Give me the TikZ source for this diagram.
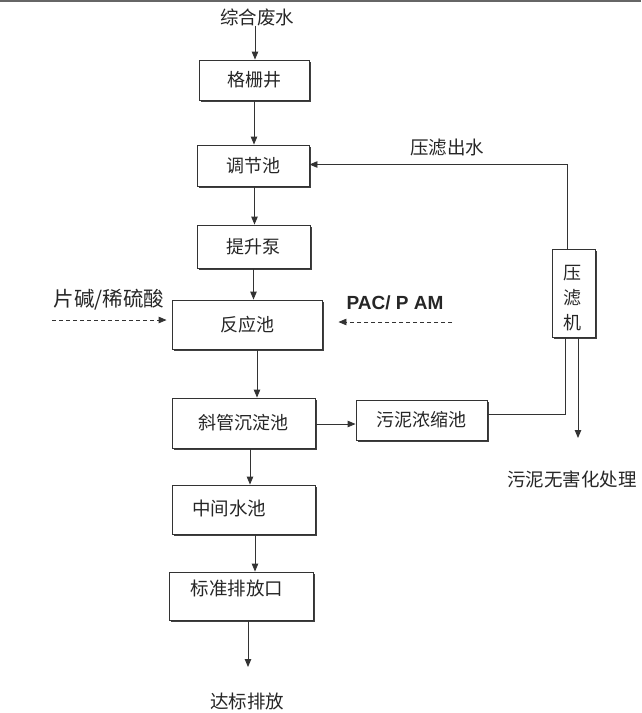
\documentclass[tikz,border=0pt]{standalone}
\usepackage{fontspec}
\newfontfamily\cjk{Noto Sans CJK SC}
\newfontfamily\lsans{Liberation Sans}
\usetikzlibrary{arrows.meta,shadows,calc}
\begin{document}
\begin{tikzpicture}[x=1pt,y=-1pt,
  line/.style={draw=black!80,line width=0.9pt},
  arr/.style={line,-{Triangle[length=8pt,width=6.5pt]}},
  darr/.style={arr,dashed,dash pattern=on 4pt off 3pt},
  box/.style={line,fill=white,font=\cjk\fontsize{18}{20}\selectfont,text=black!85,inner sep=0pt,
    general shadow={fill=black!75,shadow xshift=2pt,shadow yshift=-2pt}},
  lbl/.style={font=\cjk\fontsize{18.5}{20}\selectfont,text=black!85,inner sep=0pt}]
\useasboundingbox (0,0) rectangle (641,713);
\fill[white] (0,0) rectangle (641,713);
\fill[black!60] (0,0) rectangle (641,1.5);
% boxes
\node[box,minimum width=110,minimum height=40] (g1) at (254,80) {格栅井};
\node[box,minimum width=112,minimum height=41] (g2) at (253,165.5) {调节池};
\node[box,minimum width=113,minimum height=43] (g3) at (253.5,246.5) {提升泵};
\node[box,minimum width=150,minimum height=49] (g4) at (247,324.5) {反应池};
\node[box,minimum width=143,minimum height=50] (g5) at (243.5,423) {斜管沉淀池};
\node[box,minimum width=143,minimum height=49] (g6) at (243.5,509.5) {};
\node[lbl] (g6t) at (229,508) {中间水池};
\node[box,minimum width=144,minimum height=48] (g7) at (241,596) {};
\node[lbl] (g7t) at (237,588) {标准排放口};
\node[box,minimum width=131,minimum height=40] (s1) at (421.5,420) {污泥浓缩池};
\node[box,minimum width=43,minimum height=88] (s2) at (573.5,293) {};
\node[lbl,align=center,font=\cjk\fontsize{18}{25}\selectfont] (s2t) at (572,298.5) {压\\滤\\机};
% free labels
\node[lbl] (t0) at (257,17) {综合废水};
\node[lbl] (t1) at (247,701) {达标排放};
\node[lbl] (t2) at (447,148) {压滤出水};
\node[lbl] (t3) at (572,479) {污泥无害化处理};
\node[lbl,font=\cjk\fontsize{20.5}{22}\selectfont] (t4) at (109,300) {片碱/稀硫酸};
\node[inner sep=0pt,font=\lsans\bfseries\fontsize{19}{21}\selectfont,text=black!85] (t5) at (395,303) {PAC/ P AM};
\coordinate (c1) at (52,320);
\coordinate (c2) at (452,322);
\coordinate (e1) at (578,438);
\coordinate (e2) at (248,667);
% connectors
\draw[arr] ([xshift=-2pt]t0.south) -- ([xshift=-2pt]t0.south |- g1.north);
\draw[arr] (g1.south) -- (g1.south |- g2.north);
\draw[arr] ([xshift=1.5pt]g2.south) -- ([xshift=1.5pt]g2.south |- g3.north);
\draw[arr] (g3.south) -- (g3.south |- g4.north);
\draw[arr] ([xshift=10pt]g4.south) -- ([xshift=10pt]g4.south |- g5.north);
\draw[arr] ([xshift=6.5pt]g5.south) -- ([xshift=6.5pt]g5.south |- g6.north);
\draw[arr] ([xshift=11.5pt]g6.south) -- ([xshift=11.5pt]g6.south |- g7.north);
\draw[arr] ([xshift=7pt]g7.south) -- (e2);
\draw[arr] ([yshift=-1pt]g5.east) -- ([yshift=-1pt]g5.east -| s1.west);
\draw[line] ([yshift=6pt]s1.east) -| ([xshift=-8.5pt]s2.south);
\draw[arr] ([xshift=-6.5pt]s2.north) |- ([yshift=1pt]g2.east);
\draw[arr] ([xshift=4.5pt]s2.south) -- (e1);
\draw[darr,shorten >=5pt] (c1) -- (c1 -| g4.west);
\draw[darr,shorten >=16pt] (c2) -- (c2 -| g4.east);
\end{tikzpicture}
\end{document}
